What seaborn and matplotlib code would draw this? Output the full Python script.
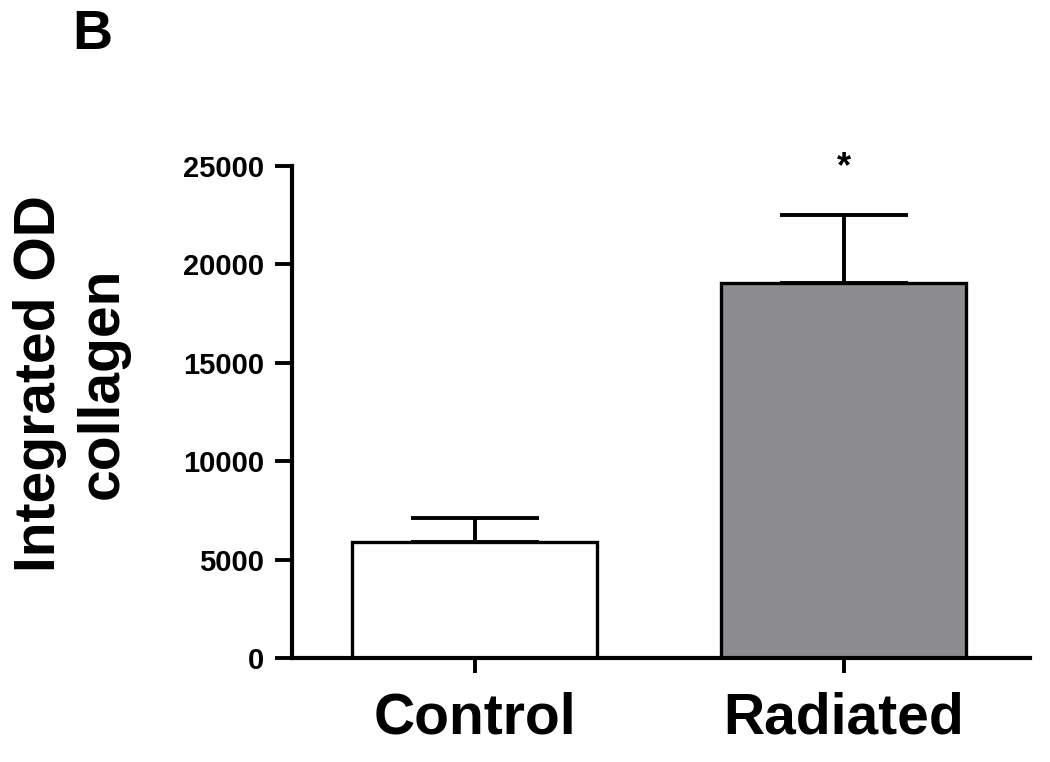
import pandas as pd
import numpy as np
import matplotlib
matplotlib.use("Agg")
import matplotlib.pyplot as plt
import seaborn as sns

# values
groups = ['Control', 'Radiated']
means = [5900, 19050]
sem = [1200, 3450]
bar_colors = ['#ffffff', '#8d8b91']
yticks = [0, 5000, 10000, 15000, 20000, 25000]

df = pd.DataFrame({'group': groups, 'value': means})

sns.set_style('ticks')
plt.rcParams['font.family'] = ['Liberation Sans', 'DejaVu Sans']
plt.rcParams['font.weight'] = 'bold'
plt.rcParams['text.color'] = 'black'
plt.rcParams['axes.edgecolor'] = 'black'
plt.rcParams['xtick.color'] = 'black'
plt.rcParams['ytick.color'] = 'black'

fig = plt.figure(figsize=(10.5, 7.62), dpi=100)
ax = fig.add_axes([0.2781, 0.1365, 0.7029, 0.6457])

sns.barplot(data=df, x='group', y='value', hue='group', palette=bar_colors,
            width=0.664, edgecolor='black', linewidth=2.4, legend=False, ax=ax)

# one-sided (upper) SEM bars
x = np.arange(len(groups))
ax.errorbar(x, means, yerr=[np.zeros(len(sem)), sem], fmt='none', ecolor='black',
            elinewidth=2.8, capsize=46, capthick=2.8, zorder=1)

ax.text(1, 24450, '*', ha='center', va='baseline', fontsize=26, fontweight='bold')

ax.set_xlim(-0.495, 1.505)
ax.set_ylim(0, 25000)
ax.set_yticks(yticks)
ax.set_xlabel('')
ax.set_ylabel('')
ax.tick_params(axis='y', labelsize=21, length=12, width=2.8, pad=8)
ax.tick_params(axis='x', labelsize=41, length=11, width=2.8, pad=13)
for lab in ax.get_xticklabels() + ax.get_yticklabels():
    lab.set_fontweight('bold')

sns.despine(ax=ax)
for s in ['left', 'bottom']:
    ax.spines[s].set_linewidth(3)

fig.text(0.068, 0.497, 'Integrated OD\ncollagen', rotation=90, ha='center', va='center',
         multialignment='center', fontsize=41, fontweight='bold')
fig.text(0.069, 0.988, 'B', ha='left', va='top', fontsize=40, fontweight='bold')

fig.savefig('out.png', dpi=100)
